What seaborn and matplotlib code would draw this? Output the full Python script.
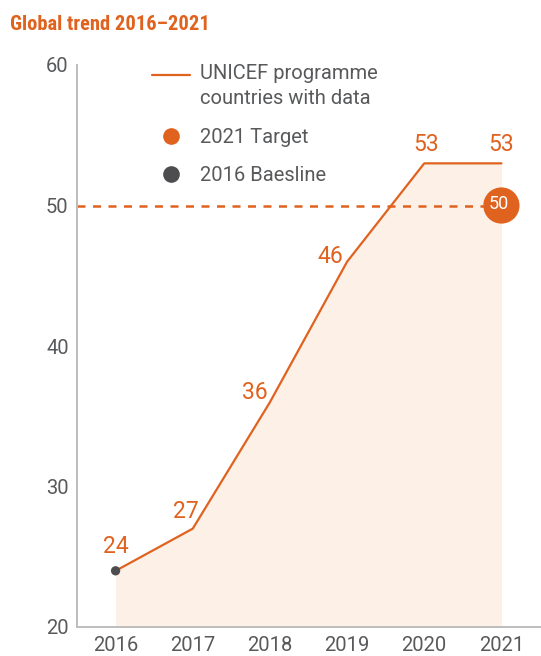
import matplotlib
matplotlib.use("Agg")
import matplotlib.pyplot as plt
import seaborn as sns
import pandas as pd
from matplotlib.lines import Line2D
from matplotlib.legend_handler import HandlerLine2D

years = [2016, 2017, 2018, 2019, 2020, 2021]
countries = [24, 27, 36, 46, 53, 53]
target_year = 2021
target_value = 50
baseline_year = 2016
baseline_value = 24
y_ticks = [20, 30, 40, 50, 60]
legend_labels = ["UNICEF programme\ncountries with data", "2021 Target", "2016 Baesline"]
title = "Global trend 2016\u20132021"

ORANGE = "#E0621F"
GRAY = "#58595B"
AXGRAY = "#BDBDBD"
FILL = "#FCF0E7"

sns.set_theme(style="white")
plt.rcParams['font.family'] = ['Roboto', 'DejaVu Sans']

df = pd.DataFrame({"year": years, "value": countries})

fig = plt.figure(figsize=(5.41, 6.56), dpi=100)
ax = fig.add_axes([77/541, 1-627/656, (540-77)/541, (627-65)/656])

ax.fill_between(df["year"], 20, df["value"], color=FILL, lw=0, zorder=1)
sns.lineplot(data=df, x="year", y="value", color=ORANGE, lw=1.6, ax=ax, zorder=3)
ax.axhline(target_value, xmin=0, xmax=(target_year - 2015.5) / 6.0, color=ORANGE,
           lw=1.8, ls=(0, (3.2, 3.0)), zorder=2)
sns.scatterplot(x=[baseline_year], y=[baseline_value], color="#4D4D4F", s=45,
                edgecolor="none", ax=ax, zorder=4)
sns.scatterplot(x=[target_year], y=[target_value], color=ORANGE, s=680,
                edgecolor="none", ax=ax, zorder=4)
ax.text(target_year - 0.03, target_value + 0.1, str(target_value), color="white", fontsize=13,
        ha="center", va="center", zorder=5)

offsets = [(0, 1.7), (-0.09, 1.2), (-0.2, 0.7), (-0.22, 0.35), (0.02, 1.35), (0, 1.35)]
for (yr, v), (dx, dy) in zip(zip(years, countries), offsets):
    ax.text(yr + dx, v + dy, str(v), color=ORANGE, fontsize=16.5,
            ha="center", va="center", zorder=5)

ax.set_xlim(2015.5, 2021.5)
ax.set_ylim(20, 60)
ax.set_yticks(y_ticks)
ax.set_xticks(years)
ax.set_xticks([y + 0.5 for y in years[:-1]], minor=True)
ax.tick_params(axis="x", which="major", length=0, labelsize=14.5, labelcolor=GRAY, pad=6.5)
ax.tick_params(axis="x", which="minor", length=14, width=1.2, direction="in", color=AXGRAY)
ax.tick_params(axis="y", which="major", length=11, width=1.2, direction="in", color=AXGRAY,
               labelsize=14.5, labelcolor=GRAY, pad=6)
ax.set_xlabel("")
ax.set_ylabel("")
for s in ["top", "right"]:
    ax.spines[s].set_visible(False)
for s in ["left", "bottom"]:
    ax.spines[s].set_color(AXGRAY)
    ax.spines[s].set_linewidth(1.4)


class TopLineHandler(HandlerLine2D):
    def create_artists(self, legend, orig_handle, xdescent, ydescent, width, height,
                       fontsize, trans):
        artists = super().create_artists(legend, orig_handle, xdescent, ydescent,
                                         width, height, fontsize, trans)
        for a in artists:
            a.set_ydata([y + 0.6 * fontsize for y in a.get_ydata()])
        return artists


handles = [
    Line2D([0], [0], color=ORANGE, lw=1.6),
    Line2D([0], [0], color=ORANGE, marker="o", ls="none", markersize=12, markeredgewidth=0),
    Line2D([0], [0], color="#4D4D4F", marker="o", ls="none", markersize=12, markeredgewidth=0),
]
leg = ax.legend(handles, legend_labels, loc="upper left", bbox_to_anchor=(0.162, 1.001),
                frameon=False, fontsize=14.5, handlelength=1.9, handletextpad=0.5,
                labelspacing=0.95, borderpad=0, borderaxespad=0, labelcolor=GRAY,
                handler_map={handles[0]: TopLineHandler()})
for t in leg.get_texts():
    t.set_linespacing(1.4)

fig.text(10/541, 1-25/656, title, color=ORANGE, fontsize=14.8, fontweight="bold",
         family=["Roboto Condensed", "Roboto", "DejaVu Sans"], va="center", ha="left")

fig.savefig("out.png", dpi=100)
